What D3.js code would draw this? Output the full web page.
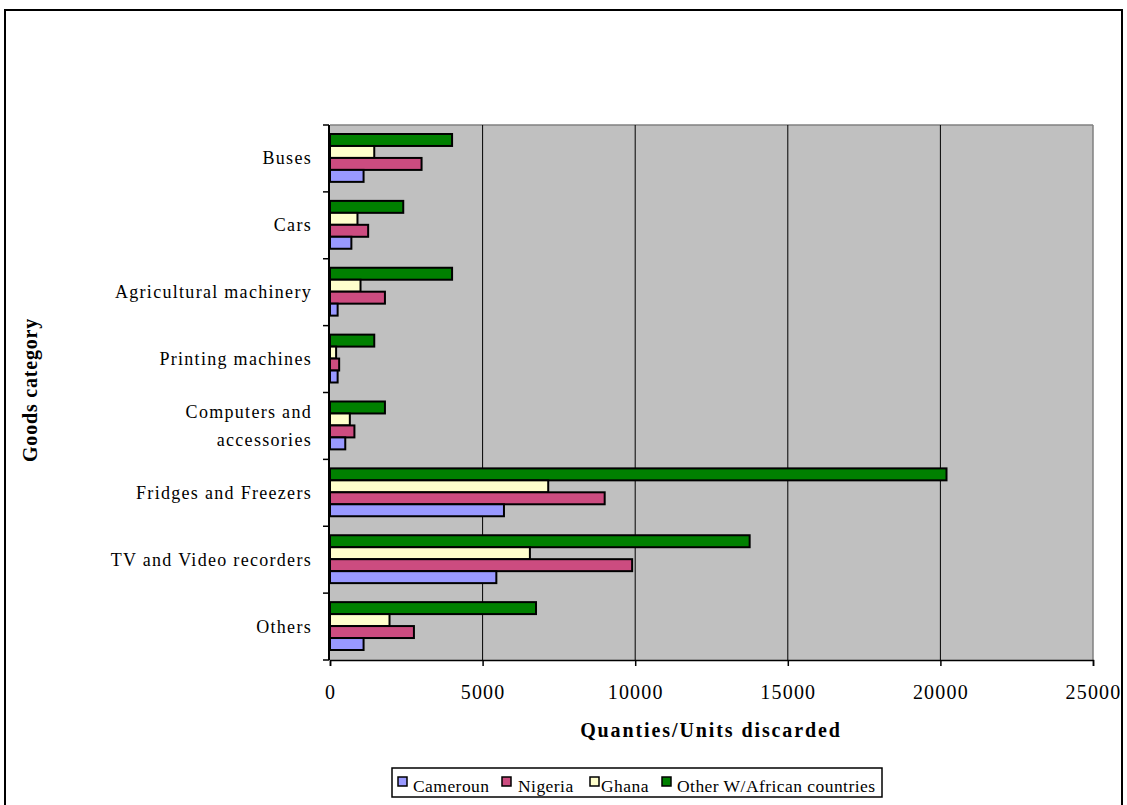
<!DOCTYPE html>
<html><head><meta charset="utf-8">
<script src="https://cdn.jsdelivr.net/npm/d3@7"></script>
<style>
body{margin:0;background:#fff;}
svg text{font-family:"Liberation Serif","Times New Roman",serif;fill:#000;}
</style></head>
<body><svg id="c" width="1127" height="805"></svg>
<script>
const categories = ["Buses","Cars","Agricultural machinery","Printing machines","Computers and accessories","Fridges and Freezers","TV and Video recorders","Others"];
const seriesNames = ["Other W/African countries","Ghana","Nigeria","Cameroun"];
const cameroun = [1100, 700, 250, 250, 500, 5700, 5450, 1100];
const nigeria  = [3000, 1250, 1800, 300, 800, 9000, 9900, 2750];
const ghana    = [1450, 900, 1000, 200, 650, 7150, 6550, 1950];
const others   = [4000, 2400, 4000, 1450, 1800, 20200, 13750, 6750];
const xTicks = [0, 5000, 10000, 15000, 20000, 25000];
const legendNames = ["Cameroun","Nigeria","Ghana","Other W/African countries"];

const values = {"Cameroun": cameroun, "Nigeria": nigeria, "Ghana": ghana, "Other W/African countries": others};
const colors = {"Cameroun":"#9999FF","Nigeria":"#CC4C80","Ghana":"#FFFFCC","Other W/African countries":"#008000"};

const svg = d3.select("#c");
// outer frame
svg.append("rect").attr("x",5).attr("y",10).attr("width",1117).attr("height",810)
  .attr("fill","#fff").attr("stroke","#000").attr("stroke-width",2);

const L=330, R=1093, T=125, B=660;
const x = d3.scaleLinear().domain([0,25000]).range([L,R]);
const y = d3.scaleBand().domain(categories).range([T,B]).padding(0);
const y1 = d3.scaleBand().domain(seriesNames).range([9, y.bandwidth()-10]).padding(0);

// plot area
svg.append("rect").attr("x",L).attr("y",T).attr("width",R-L).attr("height",B-T).attr("fill","#C0C0C0");
svg.append("line").attr("x1",L).attr("x2",R).attr("y1",T).attr("y2",T).attr("stroke","#808080").attr("stroke-width",1.5);
svg.append("line").attr("x1",R).attr("x2",R).attr("y1",T).attr("y2",B).attr("stroke","#808080").attr("stroke-width",1.5);
svg.append("g").selectAll("line").data(xTicks.filter(d=>d>0 && d<25000)).join("line")
  .attr("x1",d=>x(d)).attr("x2",d=>x(d)).attr("y1",T).attr("y2",B)
  .attr("stroke","#000").attr("stroke-width",1);

// bars
const g = svg.append("g");
categories.forEach((c,i)=>{
  seriesNames.forEach(s=>{
    g.append("rect")
      .attr("x",x(0)).attr("y",y(c)+y1(s))
      .attr("width",x(values[s][i])-x(0)).attr("height",y1.bandwidth())
      .attr("fill",colors[s]).attr("stroke","#000").attr("stroke-width",2);
  });
});

// x axis
const xa = svg.append("g").attr("transform",`translate(0,${B})`)
  .call(d3.axisBottom(x).tickValues(xTicks).tickSize(6).tickPadding(19).tickFormat(d3.format("d")));
xa.select(".domain").attr("stroke","#000").attr("stroke-width",1.5);
xa.selectAll(".tick line").attr("stroke","#000").attr("stroke-width",1.5);
xa.selectAll(".tick text").attr("font-family","Liberation Serif").attr("font-size",20).attr("letter-spacing","1.2px").attr("fill","#000");

// y axis (ticks on category boundaries)
svg.append("line").attr("x1",L-1).attr("x2",L-1).attr("y1",T).attr("y2",B).attr("stroke","#000").attr("stroke-width",2);
const bounds = categories.map(c=>y(c)).concat([B]);
svg.append("g").selectAll("line").data(bounds).join("line")
  .attr("x1",L-7).attr("x2",L-1).attr("y1",d=>d).attr("y2",d=>d).attr("stroke","#000").attr("stroke-width",1.5);

// category labels
const labelLines = {"Computers and accessories":["Computers and","accessories"]};
categories.forEach(c=>{
  const cy = y(c)+y.bandwidth()/2;
  const lines = labelLines[c] || [c];
  const t = svg.append("text").attr("text-anchor","end").attr("font-size",18).attr("letter-spacing","1.3px");
  lines.forEach((ln,k)=>{
    t.append("tspan").attr("x",312).attr("y", cy + 6 + (k - (lines.length-1)/2)*28).text(ln);
  });
});

// axis titles
svg.append("text").attr("x",711).attr("y",737).attr("text-anchor","middle")
  .attr("font-size",20).attr("font-weight","bold").attr("letter-spacing","1.9px").text("Quanties/Units discarded");
svg.append("text").attr("transform","translate(37,390) rotate(-90)").attr("text-anchor","middle")
  .attr("font-size",20).attr("font-weight","bold").attr("letter-spacing","0.8px").text("Goods category");

// legend
svg.append("rect").attr("x",392).attr("y",768).attr("width",490).attr("height",29)
  .attr("fill","#fff").attr("stroke","#000").attr("stroke-width",1.5);
const markX = [398, 502, 590, 662];
const textX = [413, 518, 601, 677];
legendNames.forEach((n,i)=>{
  svg.append("rect").attr("x",markX[i]).attr("y",777).attr("width",9).attr("height",9)
    .attr("fill",colors[n]).attr("stroke","#000").attr("stroke-width",1.5);
  svg.append("text").attr("x",textX[i]).attr("y",792).attr("font-size",17.5).attr("letter-spacing","0.45px").text(n);
});
</script></body></html>
